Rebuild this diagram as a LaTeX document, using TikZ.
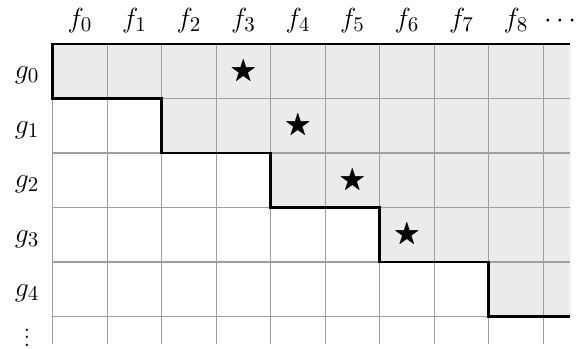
\documentclass[tikz,border=0pt]{standalone}
\usepackage{amssymb}
\begin{document}
\begin{tikzpicture}[x=1cm,y=1cm,
  gridline/.style={draw=gray!75, line width=0.6pt},
  boundary/.style={line width=1.5pt, line join=miter},
  shade/.style={fill=black!8},
  lbl/.style={font=\fontsize{15}{18}\selectfont, inner sep=0pt},
  starmark/.style={font=\Large, inner sep=0pt}]
\useasboundingbox (-0.967,0.807) rectangle (9.602,-5.596);
\fill[shade] (0,0) -- (9.5,0) -- (9.5,-5) -- (8,-5) -- (8,-4) -- (6,-4) -- (6,-3) -- (4,-3) -- (4,-2) -- (2,-2) -- (2,-1) -- (0,-1) -- cycle;
\draw[gridline] (0,0) grid (9.5,-5.5);
\draw[boundary] (9.5,0) -- (0,0) -- (0,-1) -- (2,-1) -- (2,-2) -- (4,-2) -- (4,-3) -- (6,-3) -- (6,-4) -- (8,-4) -- (8,-5) -- (9.5,-5);
\foreach \i in {0,...,8} {
  \node[lbl, anchor=base] (f\i) at (\i+0.5,0.31) {$f_{\i}$};
}
\node[lbl, anchor=base] (fdots) at (9.31,0.31) {$\cdots$};
\foreach \r in {0,...,4} {
  \node[lbl, anchor=base] (g\r) at (-0.47,-\r-0.64) {$g_{\r}$};
}
\node[lbl] (gdots) at (-0.47,-5.28) {$\vdots$};
\foreach \r/\c in {0/3,1/4,2/5,3/6} {
  \node[starmark] (s\r) at (\c+0.5,-\r-0.5) {$\bigstar$};
}
\end{tikzpicture}
\end{document}
